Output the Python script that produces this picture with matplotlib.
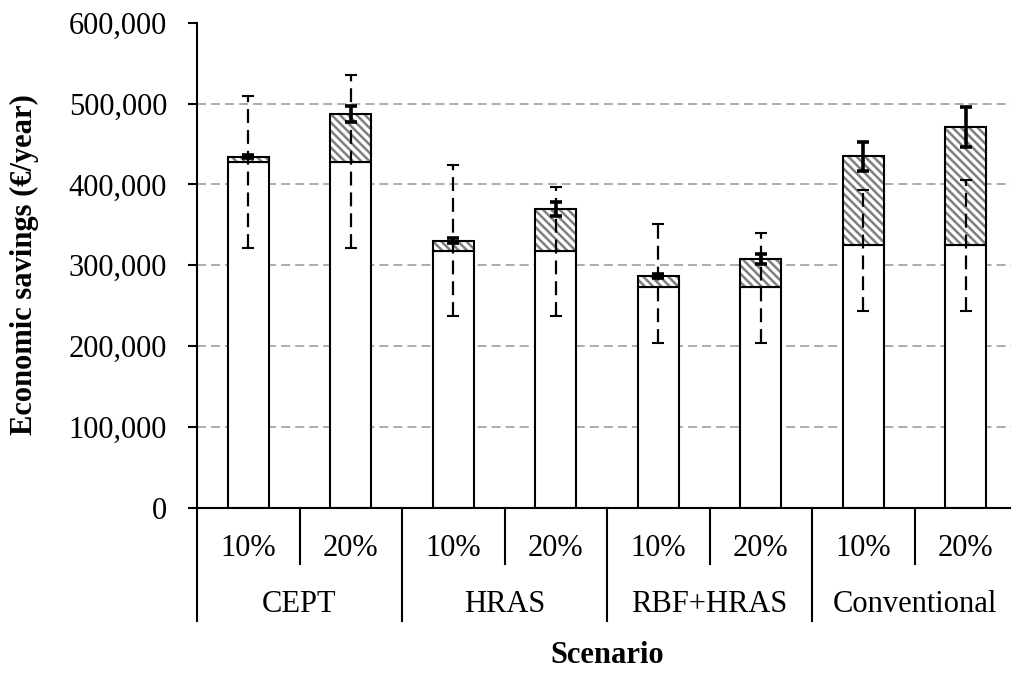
import numpy as np
import matplotlib
matplotlib.use("Agg")
import matplotlib.pyplot as plt
from matplotlib.lines import Line2D
from matplotlib.ticker import FuncFormatter, MultipleLocator

plt.rcParams['font.family'] = ['Liberation Serif', 'DejaVu Serif']
plt.rcParams['lines.scale_dashes'] = False
plt.rcParams['hatch.linewidth'] = 1.8

# scenario data (EUR/year)
groups = ['CEPT', 'HRAS', 'RBF+HRAS', 'Conventional']
levels = ['10%', '20%']
base = np.array([428000, 428000, 318000, 318000, 272700, 272700, 324600, 324600])
total = np.array([434200, 487000, 330300, 369200, 286600, 307300, 434700, 470600])
extra_err = np.array([2000, 10000, 3000, 8500, 3000, 6000, 18300, 24500])
range_low = np.array([321000, 321000, 237500, 237500, 204000, 204000, 243000, 243000])
range_high = np.array([509700, 535300, 424000, 396400, 351400, 340200, 393000, 405800])

x = np.arange(len(base))
width = 0.4
lw = 1.5

fig = plt.figure(figsize=(10.12, 6.73), dpi=100)
ax = fig.add_axes([197 / 1012, 1 - 507.7 / 673, 820 / 1012, 485 / 673])

# grid behind the bars
ax.set_axisbelow(True)
ax.yaxis.grid(True, color='#a6a6a6', linewidth=1.3, linestyle=(0, (6.5, 3.6)))

ax.bar(x, base, width, color='white', edgecolor='black', linewidth=lw, zorder=2)
ax.bar(x, total - base, width, bottom=base, color='white', edgecolor='#808080',
       linewidth=0, hatch='\\\\\\\\', zorder=2)
ax.bar(x, total - base, width, bottom=base, fill=False, edgecolor='black',
       linewidth=lw, zorder=3)

# dashed range of the base savings
centre = (range_low + range_high) / 2
eb = ax.errorbar(x, centre, yerr=[centre - range_low, range_high - centre], fmt='none',
                 ecolor='black', elinewidth=1.6, capsize=4.3, capthick=1.5, zorder=4)
eb[2][0].set_linestyle((0, (10, 5)))

# solid error of the total
ax.errorbar(x, total, yerr=extra_err, fmt='none', ecolor='black', elinewidth=2.6,
            capsize=4.3, capthick=2.6, zorder=5)

ax.set_xlim(-0.5, 7.5)
ax.set_ylim(0, 600000)
ax.yaxis.set_major_locator(MultipleLocator(100000))
ax.yaxis.set_major_formatter(FuncFormatter(lambda v, p: f'{v:,.0f}'))
for gl, v in zip(ax.yaxis.get_gridlines(), ax.get_yticks()):
    if v <= 0 or v >= 600000:
        gl.set_visible(False)

ax.spines['top'].set_visible(False)
ax.spines['right'].set_visible(False)
ax.spines['left'].set_linewidth(lw)
ax.spines['bottom'].set_linewidth(lw)
ax.tick_params(axis='y', direction='out', length=6.5, width=lw, pad=15, labelsize=22)
ax.set_xticks([])

# two-level category axis
tr = ax.get_xaxis_transform()
for i in range(len(x)):
    ax.text(x[i], -0.0996, levels[i % 2], transform=tr, ha='center', va='baseline',
            fontsize=22)
for g, name in enumerate(groups):
    ax.text(2 * g + 0.5, -0.2144, name, transform=tr, ha='center', va='baseline',
            fontsize=22)
for xs in np.arange(0.5, 7.5, 2):
    ax.add_line(Line2D([xs, xs], [0, -0.116], transform=tr, color='black',
                       linewidth=lw, clip_on=False))
for xs in np.arange(-0.5, 8, 2):
    ax.add_line(Line2D([xs, xs], [0, -0.233], transform=tr, color='black',
                       linewidth=lw, clip_on=False))

fig.text(197 / 1012 + 410 / 1012, 1 - 662.7 / 673, 'Scenario', ha='center', va='baseline',
         fontsize=22, fontweight='bold')
fig.text(24 / 1012, 1 - 265 / 673, 'Economic savings (€/year)', rotation=90,
         ha='center', va='center', fontsize=22, fontweight='bold')

fig.savefig('out.png', dpi=100)
